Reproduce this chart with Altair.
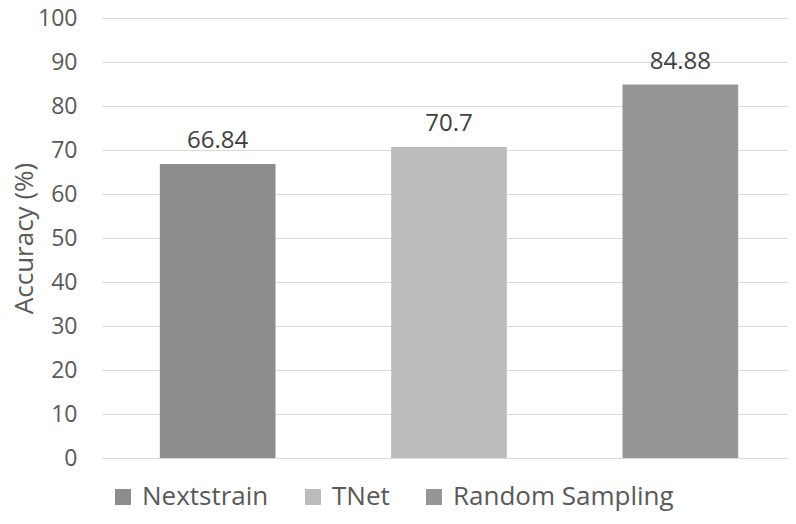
import altair as alt
import pandas as pd

methods = ["Nextstrain", "TNet", "Random Sampling"]
accuracy = [66.84, 70.7, 84.88]
colors = ["#8c8c8c", "#bcbcbc", "#969696"]
y_ticks = [0, 10, 20, 30, 40, 50, 60, 70, 80, 90, 100]

df = pd.DataFrame({"method": methods, "accuracy": accuracy})

FONT = "Open Sans"

x_enc = alt.X(
    "method:N",
    sort=methods,
    scale=alt.Scale(paddingInner=0.5, paddingOuter=0.25, range=[0, 694]),
    axis=None,
)
y_axis = alt.Axis(
    values=y_ticks,
    title="Accuracy (%)",
    grid=True,
    gridColor="#d9d9d9",
    gridWidth=1,
    domain=False,
    ticks=False,
    labelPadding=25,
    labelFontSize=23,
    labelColor="#595959",
    labelFont=FONT,
    titleFont=FONT,
    titleFontSize=26,
    titleColor="#595959",
    titleFontWeight="normal",
    titlePadding=0,
)

bars = alt.Chart(df).mark_bar().encode(
    x=x_enc,
    y=alt.Y("accuracy:Q", scale=alt.Scale(domain=[0, 100]), axis=y_axis),
    color=alt.Color(
        "method:N",
        sort=methods,
        scale=alt.Scale(domain=methods, range=colors),
        legend=alt.Legend(
            orient="none",
            legendX=8,
            legendY=466,
            direction="horizontal",
            title=None,
            symbolType="square",
            symbolSize=256,
            symbolStrokeWidth=0,
            symbolOpacity=1,
            labelFontSize=26,
            labelFont=FONT,
            labelColor="#595959",
            labelOffset=6,
            labelLimit=500,
            columnPadding=31,
        ),
    ),
)

labels = alt.Chart(df).mark_text(
    baseline="bottom", dy=-11, fontSize=24, color="#404040", font=FONT
).encode(
    x=x_enc,
    y=alt.Y("accuracy:Q"),
    text=alt.Text("accuracy:Q", format="~g"),
)

chart = (
    alt.layer(bars, labels)
    .properties(
        width=686,
        height=440,
        autosize=alt.AutoSizeParams(type="none"),
        padding={"left": 94, "top": 10, "right": 0, "bottom": 56},
    )
    .configure_view(stroke=None)
)

chart.save("out.html", embed_options={"renderer": "svg", "actions": False})
